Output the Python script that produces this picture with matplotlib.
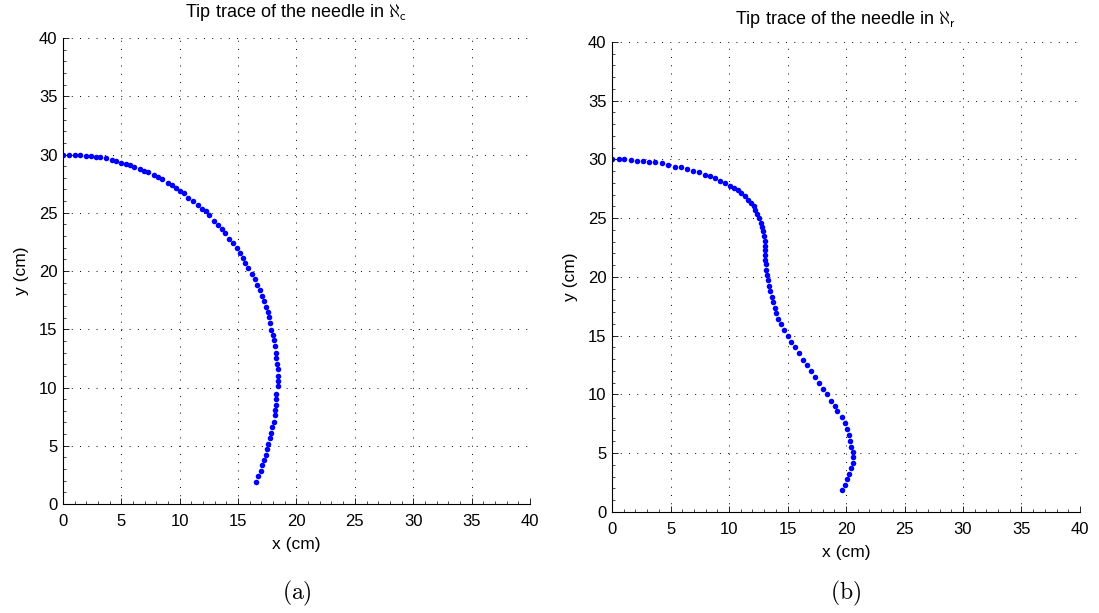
import numpy as np
import matplotlib
matplotlib.use('Agg')
import matplotlib.pyplot as plt
from matplotlib.ticker import MultipleLocator

plt.rcParams['font.family'] = ['Liberation Sans', 'DejaVu Sans']
plt.rcParams['mathtext.fontset'] = 'cm'

# tip trace in aleph_c (left panel)
xc = [0, 0.54, 1.0, 1.46, 1.94, 2.40, 2.85, 3.2, 3.68, 4.17,
      4.56, 4.99, 5.36, 5.76, 6.1, 6.62, 6.96, 7.3, 7.79, 8.13,
      8.47, 8.96, 9.3, 9.64, 9.99, 10.33, 10.7, 11.18, 11.53, 11.87,
      12.21, 12.55, 12.92, 13.3, 13.64, 13.87, 14.21, 14.55, 14.89, 15.15,
      15.41, 15.63, 15.86, 16.15, 16.43, 16.66, 16.89, 17.09, 17.23, 17.43,
      17.54, 17.69, 17.77, 17.86, 18.0, 18.11, 18.17, 18.26, 18.29, 18.34,
      18.4, 18.4, 18.4, 18.4, 18.29, 18.29, 18.29, 18.17, 18.17, 18.06,
      17.94, 17.83, 17.71, 17.6, 17.49, 17.37, 17.23, 17.09, 16.94, 16.74,
      16.51]
yc = [30, 30, 30, 30, 29.91, 29.91, 29.8, 29.8, 29.66, 29.52,
      29.4, 29.29, 29.17, 29.06, 28.95, 28.72, 28.6, 28.49, 28.26, 28.03,
      27.86, 27.58, 27.35, 27.09, 26.87, 26.67, 26.27, 26.04, 25.7, 25.36,
      25.13, 24.79, 24.33, 23.96, 23.59, 23.22, 22.79, 22.42, 21.97, 21.51,
      21.11, 20.68, 20.23, 19.77, 19.32, 18.83, 18.37, 17.89, 17.4, 16.94,
      16.49, 16.03, 15.57, 14.97, 14.54, 14.06, 13.57, 13.0, 12.54, 12.06,
      11.6, 11.0, 10.57, 10.09, 9.46, 9.0, 8.54, 8.11, 7.63, 7.06,
      6.57, 6.09, 5.63, 5.14, 4.69, 4.23, 3.77, 3.31, 2.86, 2.37,
      1.86]

# tip trace in aleph_r (right panel)
xr = [0, 0.57, 1.05, 1.62, 2.1, 2.64, 3.15, 3.69, 4.29, 4.77,
      5.34, 5.91, 6.42, 6.88, 7.44, 7.93, 8.38, 8.84, 9.26, 9.66,
      10.09, 10.45, 10.74, 11.05, 11.36, 11.59, 11.88, 12.1, 12.22, 12.39,
      12.59, 12.73, 12.81, 12.87, 12.95, 13.04, 13.04, 13.07, 13.07, 13.07,
      13.15, 13.18, 13.24, 13.32, 13.41, 13.51, 13.65, 13.76, 13.93, 14.04,
      14.21, 14.44, 14.66, 15.0, 15.28, 15.62, 15.96, 16.29, 16.63, 17.02,
      17.36, 17.7, 18.03, 18.37, 18.71, 19.1, 19.27, 19.63, 19.89, 20.11,
      20.22, 20.34, 20.45, 20.56, 20.56, 20.56, 20.39, 20.22, 20.06, 19.89,
      19.66]
yr = [30, 30, 30, 29.97, 29.89, 29.89, 29.77, 29.77, 29.66, 29.55,
      29.4, 29.32, 29.18, 29.06, 28.95, 28.72, 28.58, 28.41, 28.18, 28.01,
      27.78, 27.56, 27.39, 27.16, 26.88, 26.59, 26.31, 26.02, 25.68, 25.34,
      25.0, 24.6, 24.26, 23.89, 23.47, 23.04, 22.61, 22.27, 21.9, 21.48,
      21.08, 20.63, 20.2, 19.77, 19.26, 18.8, 18.31, 17.86, 17.38, 16.95,
      16.44, 15.98, 15.53, 14.96, 14.5, 14.02, 13.53, 12.97, 12.51, 12.0,
      11.49, 10.97, 10.49, 10.04, 9.47, 8.98, 8.58, 8.07, 7.56, 7.05,
      6.54, 6.08, 5.57, 5.14, 4.66, 4.2, 3.72, 3.24, 2.78, 2.3,
      1.87]

titles = [r'Tip trace of the needle in $\aleph_\mathsf{c}$',
          r'Tip trace of the needle in $\aleph_\mathsf{r}$']
captions = [r'$\mathrm{(a)}$', r'$\mathrm{(b)}$']
title_pads = [15, 13]

fig = plt.figure(figsize=(10.99, 6.13), dpi=100)
ax1 = fig.add_axes([0.0573, 0.1778, 0.4249, 0.7602])
ax2 = fig.add_axes([0.5569, 0.1648, 0.4258, 0.7667])

for ax, x, y, t, cap, tp in [(ax1, xc, yc, titles[0], captions[0], title_pads[0]),
                             (ax2, xr, yr, titles[1], captions[1], title_pads[1])]:
    ax.plot(x, y, 'o', color='#0000ff', markersize=4, markeredgewidth=0)
    ax.set_xlim(0, 40)
    ax.set_ylim(0, 40)
    ax.xaxis.set_major_locator(MultipleLocator(5))
    ax.yaxis.set_major_locator(MultipleLocator(5))
    ax.xaxis.set_minor_locator(MultipleLocator(1))
    ax.yaxis.set_minor_locator(MultipleLocator(1))
    ax.tick_params(which='major', direction='in', length=4, width=0.6,
                   labelsize=12, top=False, right=False)
    ax.tick_params(axis='x', which='major', pad=7)
    ax.tick_params(axis='y', which='major', pad=4)
    ax.tick_params(which='minor', direction='in', length=2, width=0.5,
                   top=False, right=False)
    ax.spines['top'].set_visible(False)
    ax.spines['right'].set_visible(False)
    ax.spines['left'].set_linewidth(0.8)
    ax.spines['bottom'].set_linewidth(0.8)
    ax.grid(True, which='major', color='k', linestyle=(0, (1, 7.5)), linewidth=0.7)
    ax.set_axisbelow(True)
    ax.set_xlabel('x (cm)', fontsize=12.5, labelpad=6)
    ax.set_ylabel('y (cm)', fontsize=12.5, labelpad=7)
    ax.set_title(t, fontsize=13, pad=tp)
    pos = ax.get_position()
    fig.text((pos.x0 + pos.x1) / 2, 0.032, cap, fontsize=17, ha='center', va='center')

fig.savefig('out.png', dpi=100)
